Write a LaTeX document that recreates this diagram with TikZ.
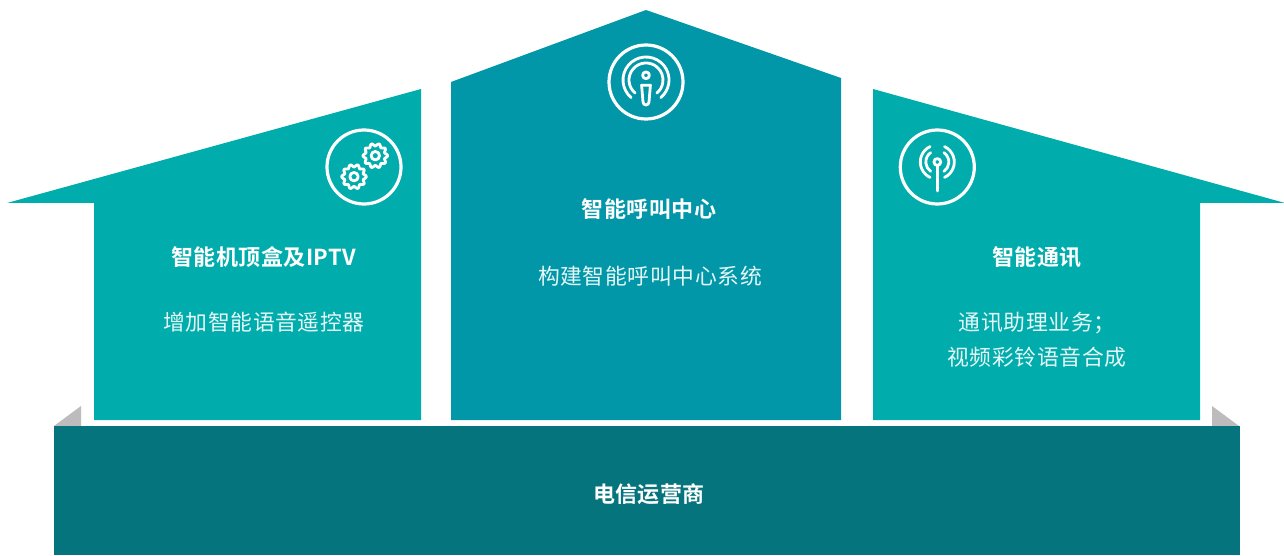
\documentclass[tikz,border=0pt]{standalone}
\usepackage{fontspec}
\newfontfamily\bodyf[LetterSpace=3]{Noto Sans CJK SC}
\newfontfamily\headf[LetterSpace=2]{Noto Sans CJK SC Bold}
\usetikzlibrary{calc}
\definecolor{tealside}{HTML}{01ADAC}
\definecolor{tealmid}{HTML}{0197A8}
\definecolor{tealbase}{HTML}{05747D}
\definecolor{graytri}{HTML}{BDBBBB}
\tikzset{
  sidehouse/.style={fill=tealside,draw=none},
  midhouse/.style={fill=tealmid,draw=none},
  basebox/.style={fill=tealbase,draw=none},
  graywedge/.style={fill=graytri,draw=none},
  headlabel/.style={text=white,font=\headf\fontsize{22}{26}\selectfont,inner sep=0pt,anchor=center},
  bodylabel/.style={text=white!90!tealside,font=\bodyf\fontsize{21.8}{35}\selectfont,inner sep=0pt,anchor=center,align=center},
  iconring/.style={draw=white,line width=3.2pt,fill=none},
  iconline/.style={draw=white,line width=2.8pt,line cap=round,line join=round,fill=none},
}
\newcommand{\gearat}[2]{%
  \draw[iconline] plot[smooth cycle,samples=96,domain=0:356.25,shift={(#1,#2)}]
    ({(11.0+1.3*cos(10*\x))*cos(\x)},{(11.0+1.3*cos(10*\x))*sin(\x)});
  \draw[iconline] (#1,#2) circle (4.2);
}
\begin{document}
\begin{tikzpicture}[x=1pt,y=1pt]
\useasboundingbox (0,0) rectangle (1284,555);
% shapes (y measured upward: y = 555 - pixel row)
\fill[graywedge] (54,129) -- (81,149) -- (81,129) -- cycle;
\fill[graywedge] (1212,149) -- (1212,129) -- (1239,129) -- cycle;
\fill[basebox] (54,0) rectangle (1240,129);
\fill[sidehouse] (7,352) -- (421,466) -- (421,135) -- (94,135) -- (94,352) -- cycle;
\fill[sidehouse] (1285,352) -- (873,466) -- (873,135) -- (1200,135) -- (1200,352) -- cycle;
\fill[midhouse] (451,473) -- (646,545) -- (841,477) -- (841,135) -- (451,135) -- cycle;
% icons
\begin{scope}[shift={(364,388)}]
  \draw[iconring] (0,0) circle (37);
\end{scope}
\gearat{354}{378.3}
\gearat{375.3}{399.3}
\begin{scope}[shift={(646,473)}]
  \draw[iconring] (0,0) circle (37);
  \draw[iconline] (0,6.7) circle (3.4);
  \draw[iconline] (-4.4,-3.2) -- (4.4,-3.2) -- (3,-20) arc (0:-180:3) -- cycle;
  \draw[iconline] ($(0,2)+(230:23)$) arc (230:-50:23);
  \draw[iconline] ($(0,2)+(230:17)$) arc (230:-50:17);
\end{scope}
\begin{scope}[shift={(937.3,388)}]
  \draw[iconring] (0,0) circle (37);
  \draw[iconline] (0,5) circle (3.4);
  \draw[iconline] (0,1.6) -- (0,-24);
  \draw[iconline] ($(0,5)+(115:17)$) arc (115:245:17);
  \draw[iconline] ($(0,5)+(125:11.5)$) arc (125:235:11.5);
  \draw[iconline] ($(0,5)+(65:17)$) arc (65:-65:17);
  \draw[iconline] ($(0,5)+(55:11.5)$) arc (55:-55:11.5);
\end{scope}
% labels
\node[headlabel] (h1) at (264,298) {智能机顶盒及IPTV};
\node[bodylabel] (b1) at (264,233) {增加智能语音遥控器};
\node[headlabel] (h2) at (649,346) {智能呼叫中心};
\node[bodylabel] (b2) at (650,279) {构建智能呼叫中心系统};
\node[headlabel] (h3) at (1037,298) {智能通讯};
\node[bodylabel] (b3) at (1037,215) {通讯助理业务；\\视频彩铃语音合成};
\node[headlabel] (h4) at (649,61) {电信运营商};
\end{tikzpicture}
\end{document}
